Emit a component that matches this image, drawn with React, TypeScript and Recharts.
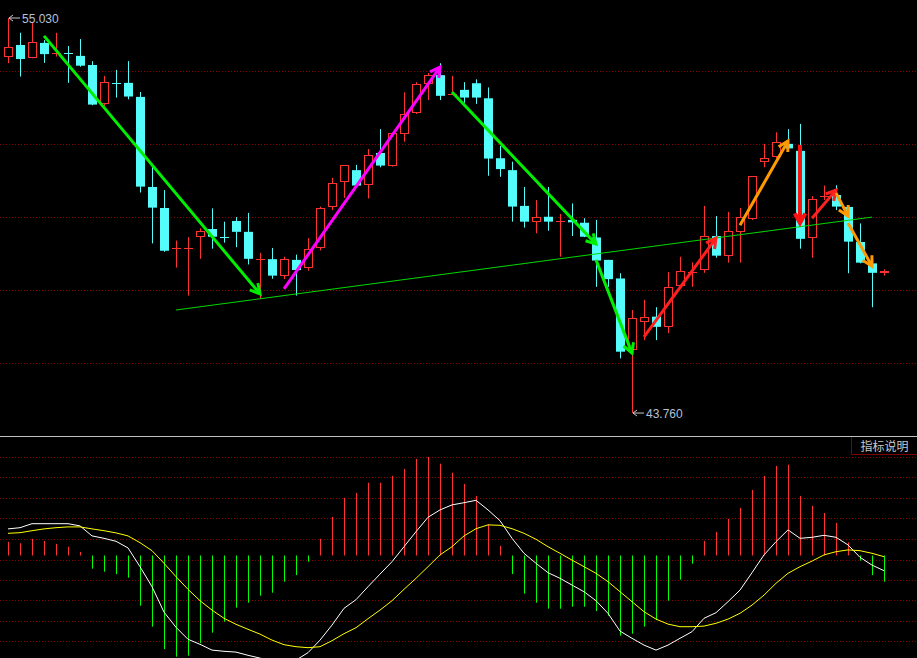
import React from 'react';
import {
  ComposedChart,
  Bar,
  Line,
  XAxis,
  YAxis,
  CartesianGrid,
  ReferenceLine,
  ReferenceDot,
} from 'recharts';

// daily candles
const opens = [
  53.91, 54.26, 53.9, 54.32, 54.02, 54.03, 53.95, 53.69, 52.59, 53.18,
  53.18, 52.78, 50.21, 49.61, 48.45, 48.47, 48.77, 49.01, 48.78, 49.24,
  48.93, 48.14, 48.15, 47.68, 48.13, 47.91, 48.48, 49.63, 50.34, 50.69,
  50.26, 51.18, 50.82, 51.71, 52.31, 53.14, 53.4, 52.87, 52.98, 53.17,
  52.74, 51.03, 50.69, 49.67, 49.22, 49.36, 49.22, 49.27, 49.19, 48.77,
  48.13, 47.6, 45.56, 46.37, 46.51, 46.21, 47.39, 47.79, 47.85, 48.81,
  48.25, 48.93, 49.29, 50.93, 51.06, 51.44, 51.24, 48.76, 49.94, 49.98,
  49.64, 48.64, 48.03, 47.75,
];
const highs = [
  55.03, 54.61, 54.92, 54.4, 54.61, 54.23, 54.43, 53.8, 53.38, 53.55,
  53.8, 52.92, 50.79, 50.12, 48.68, 48.78, 49.03, 49.6, 49.22, 49.35,
  49.47, 48.33, 48.47, 48.22, 48.28, 48.75, 49.65, 50.47, 50.84, 50.84,
  51.29, 51.86, 51.75, 52.91, 53.2, 53.46, 53.74, 53.38, 53.2, 53.28,
  53.05, 51.38, 50.93, 50.21, 49.84, 50.21, 49.44, 49.74, 49.32, 49.27,
  48.13, 47.75, 46.7, 46.99, 46.78, 47.78, 48.22, 48.06, 49.67, 49.38,
  49.5, 49.61, 50.52, 51.44, 51.77, 51.86, 52.01, 49.95, 50.25, 50.26,
  49.64, 49.17, 48.03, 47.86,
];
const lows = [
  53.74, 53.36, 53.88, 53.75, 53.93, 53.18, 53.64, 52.54, 52.52, 52.76,
  52.71, 50.05, 48.6, 48.36, 47.91, 47.11, 48.16, 48.45, 48.62, 48.49,
  48.0, 47.01, 47.59, 47.58, 47.11, 47.82, 48.4, 49.55, 49.9, 50.22,
  49.88, 50.77, 50.79, 51.5, 52.29, 52.69, 52.69, 52.83, 52.61, 52.58,
  50.53, 50.5, 49.22, 49.05, 48.89, 48.96, 48.22, 48.81, 48.78, 47.36,
  47.36, 45.32, 43.76, 45.84, 45.84, 46.04, 47.36, 47.36, 47.76, 48.19,
  48.05, 48.05, 49.27, 50.77, 51.03, 51.28, 48.45, 48.19, 49.84, 49.55,
  47.75, 48.03, 46.78, 47.68,
];
const closes = [
  54.21, 53.86, 54.34, 54.0, 54.03, 54.02, 53.67, 52.56, 53.2, 53.16,
  52.79, 50.22, 49.62, 48.39, 48.46, 48.48, 48.95, 48.79, 48.77, 48.93,
  48.16, 48.15, 47.68, 48.15, 47.84, 48.43, 49.6, 50.31, 50.83, 50.25,
  51.11, 50.82, 51.74, 52.28, 53.15, 53.4, 52.81, 52.88, 52.76, 52.76,
  51.02, 50.72, 49.65, 49.22, 49.34, 49.22, 49.23, 49.2, 48.79, 48.11,
  47.58, 45.51, 46.46, 46.49, 46.22, 47.35, 47.8, 47.8, 48.8, 48.25,
  48.95, 49.34, 50.51, 51.03, 51.48, 51.31, 48.73, 49.86, 49.95, 49.65,
  48.65, 48.05, 47.76, 47.82,
];

// MACD panel
const macdHist = [
  0.068, 0.061, 0.083, 0.073, 0.058, 0.044, 0.018, -0.066, -0.081, -0.093,
  -0.111, -0.251, -0.356, -0.468, -0.506, -0.501, -0.439, -0.386, -0.331, -0.261,
  -0.236, -0.201, -0.186, -0.131, -0.098, -0.031, 0.083, 0.193, 0.288, 0.313,
  0.364, 0.364, 0.398, 0.433, 0.483, 0.493, 0.459, 0.414, 0.358, 0.298,
  0.156, 0.048, -0.093, -0.191, -0.236, -0.266, -0.266, -0.256, -0.256, -0.278,
  -0.301, -0.401, -0.391, -0.356, -0.323, -0.226, -0.121, -0.041, 0.073, 0.118,
  0.183, 0.238, 0.328, 0.398, 0.448, 0.454, 0.298, 0.248, 0.213, 0.163,
  0.066, -0.026, -0.098, -0.131,
];
const difLine = [
  0.133, 0.139, 0.159, 0.159, 0.159, 0.159, 0.148, 0.098, 0.086, 0.071,
  0.038, -0.056, -0.156, -0.283, -0.359, -0.419, -0.444, -0.473, -0.479, -0.483,
  -0.499, -0.513, -0.528, -0.538, -0.523, -0.486, -0.423, -0.348, -0.264, -0.221,
  -0.156, -0.093, -0.031, 0.044, 0.119, 0.191, 0.228, 0.253, 0.264, 0.276,
  0.228, 0.174, 0.086, 0.011, -0.039, -0.086, -0.114, -0.148, -0.181, -0.226,
  -0.289, -0.378, -0.414, -0.448, -0.473, -0.448, -0.414, -0.381, -0.314, -0.286,
  -0.231, -0.173, -0.086, 0.003, 0.069, 0.128, 0.086, 0.091, 0.101, 0.091,
  0.053, -0.009, -0.048, -0.076,
];
const deaLine = [
  0.111, 0.114, 0.124, 0.133, 0.139, 0.143, 0.143, 0.133, 0.124, 0.113,
  0.098, 0.064, 0.024, -0.039, -0.106, -0.169, -0.226, -0.273, -0.314, -0.344,
  -0.369, -0.393, -0.423, -0.446, -0.456, -0.461, -0.456, -0.426, -0.391, -0.361,
  -0.316, -0.273, -0.226, -0.169, -0.114, -0.056, 0.003, 0.044, 0.098, 0.134,
  0.153, 0.151, 0.134, 0.111, 0.081, 0.044, 0.011, -0.023, -0.056, -0.089,
  -0.131, -0.181, -0.231, -0.281, -0.318, -0.343, -0.356, -0.356, -0.353, -0.339,
  -0.318, -0.289, -0.248, -0.198, -0.139, -0.089, -0.056, -0.028, 0.003, 0.019,
  0.028, 0.024, 0.011, -0.006,
];

// drawn trend lines: [candle index, price]
const trendLines = [
  { from: [14, 46.7], to: [72, 49.35], color: '#00d800', width: 1, head: false },
  { from: [3, 54.52], to: [21, 47.16], color: '#00ee00', width: 3, head: true },
  { from: [23, 47.3], to: [36, 53.63], color: '#ff00ff', width: 3, head: true },
  { from: [37, 52.92], to: [49, 48.58], color: '#00ee00', width: 3, head: true },
  { from: [49, 48.13], to: [52, 45.47], color: '#00ee00', width: 3, head: true },
  { from: [53, 45.93], to: [59, 48.75], color: '#ff2020', width: 3, head: true },
  { from: [61, 49.12], to: [65, 51.52], color: '#ff9a00', width: 3, head: true },
  { from: [66, 51.41], to: [66, 49.18], color: '#ff1010', width: 4, head: true },
  { from: [67, 49.32], to: [69, 50.12], color: '#ff2020', width: 3, head: true },
  { from: [69, 50.04], to: [70, 49.38], color: '#ff9a00', width: 3, head: true },
  { from: [70, 49.18], to: [72, 47.95], color: '#ff9a00', width: 3, head: true },
];

const highMark = { index: 0, price: 55.03, text: '55.030' };
const lowMark = { index: 52, price: 43.76, text: '43.760' };

const RED = '#ff3232';
const CYAN = '#54fcfc';
const GREEN = '#00ff00';
const GRID = '#8c0000';

const candles = opens.map((open, i) => ({
  i,
  open,
  high: highs[i],
  low: lows[i],
  close: closes[i],
}));
const macdData = macdHist.map((hist, i) => ({ i, hist, dif: difLine[i], dea: deaLine[i] }));

const Candle = (props: any) => {
  const { x, y, width, height, payload } = props;
  if (!payload) return null;
  const { open, close, high, low } = payload;
  const top = Math.min(y, y + height);
  const h = Math.abs(height);
  const toY = (p: number) => top + ((high - p) / (high - low)) * h;
  const cx = Math.floor(x + width / 2) + 0.5;
  const up = close >= open;
  const color = up ? RED : CYAN;
  const yO = toY(open);
  const yC = toY(close);
  const bTop = Math.min(yO, yC);
  const bBot = Math.max(yO, yC);
  const yH = top;
  const yL = top + h;

  if (bBot - bTop < 1.5) {
    const yy = Math.round((bTop + bBot) / 2) + 0.5;
    return (
      <g>
        <line x1={cx} x2={cx} y1={yH} y2={yL} stroke={color} />
        <line x1={cx - 4.5} x2={cx + 4.5} y1={yy} y2={yy} stroke={color} />
      </g>
    );
  }
  if (up) {
    const rt = Math.round(bTop) + 0.5;
    const rb = Math.round(bBot) - 0.5;
    return (
      <g>
        <line x1={cx} x2={cx} y1={yH} y2={rt} stroke={color} />
        <line x1={cx} x2={cx} y1={rb} y2={yL} stroke={color} />
        <rect x={cx - 4} y={rt} width={8} height={Math.max(1, rb - rt)} fill="#000" stroke={color} />
      </g>
    );
  }
  return (
    <g>
      <line x1={cx} x2={cx} y1={yH} y2={yL} stroke={color} />
      <rect x={cx - 4.5} y={bTop} width={9} height={bBot - bTop} fill={color} />
    </g>
  );
};

const MacdStick = (props: any) => {
  const { x, y, width, height, payload } = props;
  if (!payload) return null;
  const up = payload.hist >= 0;
  const cx = Math.floor(x + width / 2) + 0.5;
  return <line x1={cx} x2={cx} y1={y} y2={y + height} stroke={up ? RED : GREEN} />;
};

const arrowShape = (color: string, width: number, head: boolean) => (props: any) => {
  const { x1, y1, x2, y2 } = props;
  if ([x1, y1, x2, y2].some((v) => v == null || Number.isNaN(v))) return null;
  const ang = Math.atan2(y2 - y1, x2 - x1);
  const len = 11;
  const spread = 0.5;
  const ax1 = x2 - len * Math.cos(ang - spread);
  const ay1 = y2 - len * Math.sin(ang - spread);
  const ax2 = x2 - len * Math.cos(ang + spread);
  const ay2 = y2 - len * Math.sin(ang + spread);
  return (
    <g>
      <line x1={x1} y1={y1} x2={x2} y2={y2} stroke={color} strokeWidth={width} />
      {head && (
        <polyline
          points={`${ax1},${ay1} ${x2},${y2} ${ax2},${ay2}`}
          fill="none"
          stroke={color}
          strokeWidth={width}
        />
      )}
    </g>
  );
};

const extremeLabel = (text: string) => (props: any) => {
  const { cx, cy } = props;
  if (cx == null || cy == null) return null;
  return (
    <g>
      <line x1={cx + 1} y1={cy} x2={cx + 12} y2={cy} stroke="#c8c8c8" />
      <polyline points={`${cx + 5},${cy - 3} ${cx + 1},${cy} ${cx + 5},${cy + 3}`} fill="none" stroke="#c8c8c8" />
      <text x={cx + 14} y={cy + 4.5} fill="#b4c0d8" fontSize={12} fontFamily="'Liberation Sans', Arial, sans-serif">
        {text}
      </text>
    </g>
  );
};

// grid runs the full width, candles keep a 12px slot starting at x=2
const margin = { top: 0, right: 0, bottom: 0, left: 0 };
const xPad = { left: 2, right: 27 };

export default function App() {
  return (
    <div
      style={{
        position: 'absolute',
        left: 0,
        top: 0,
        width: 917,
        height: 658,
        background: '#000',
        overflow: 'hidden',
      }}
    >
      {/* price panel */}
      <div style={{ position: 'absolute', left: 0, top: 0 }}>
        <ComposedChart width={917} height={436} data={candles} margin={margin}>
          <CartesianGrid
            vertical={false}
            horizontalPoints={[71.5, 144.5, 217.5, 290.5, 363.5]}
            stroke={GRID}
            strokeDasharray="1 2"
          />
          <XAxis dataKey="i" hide padding={xPad} />
          <YAxis hide type="number" domain={[43.105, 55.544]} allowDataOverflow />
          <Bar
            dataKey={(d: any) => [d.low, d.high]}
            barSize={9}
            shape={<Candle />}
            isAnimationActive={false}
          />
          {trendLines.map((t, k) => (
            <ReferenceLine
              key={k}
              segment={[
                { x: t.from[0], y: t.from[1] },
                { x: t.to[0], y: t.to[1] },
              ]}
              ifOverflow="visible"
              shape={arrowShape(t.color, t.width, t.head)}
            />
          ))}
          <ReferenceDot x={highMark.index} y={highMark.price} r={0} shape={extremeLabel(highMark.text)} />
          <ReferenceDot x={lowMark.index} y={lowMark.price} r={0} shape={extremeLabel(lowMark.text)} />
        </ComposedChart>
      </div>

      <div style={{ position: 'absolute', left: 0, top: 436, width: 917, height: 1, background: '#c0c0c0' }} />

      {/* MACD panel */}
      <div style={{ position: 'absolute', left: 0, top: 437 }}>
        <ComposedChart width={917} height={221} data={macdData} margin={margin}>
          <CartesianGrid
            vertical={false}
            horizontalPoints={[20.5, 40.5, 61.5, 81.5, 102.5, 123.5, 143.5, 163.5, 184.5, 204.5]}
            stroke={GRID}
            strokeDasharray="1 2"
          />
          <XAxis dataKey="i" hide padding={xPad} />
          <YAxis hide type="number" domain={[-0.5125, 0.5925]} allowDataOverflow />
          <Bar dataKey="hist" barSize={9} shape={<MacdStick />} isAnimationActive={false} />
          <Line type="linear" dataKey="dif" stroke="#ffffff" strokeWidth={1} dot={false} isAnimationActive={false} />
          <Line type="linear" dataKey="dea" stroke="#ffff00" strokeWidth={1} dot={false} isAnimationActive={false} />
        </ComposedChart>
      </div>

      <div
        style={{
          position: 'absolute',
          left: 851,
          top: 437,
          width: 66,
          height: 18,
          borderLeft: '1px solid #800000',
          borderBottom: '1px solid #800000',
          boxSizing: 'border-box',
          color: '#c8c8c8',
          fontSize: 12,
          lineHeight: '17px',
          textAlign: 'center',
          fontFamily: "'Noto Sans CJK SC', sans-serif",
        }}
      >
        指标说明
      </div>
    </div>
  );
}
